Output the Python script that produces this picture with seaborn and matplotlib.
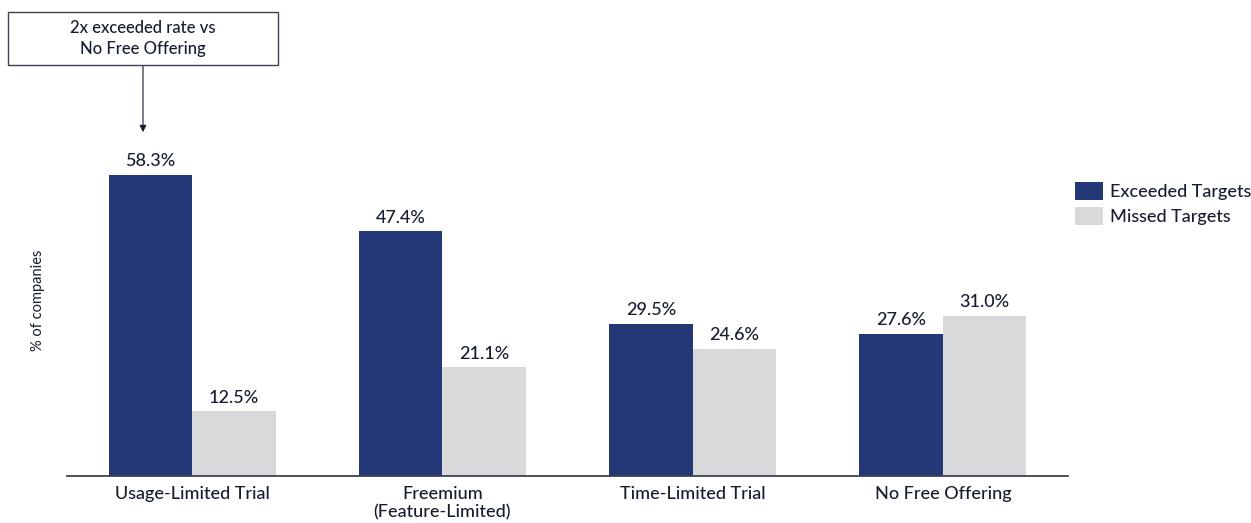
import matplotlib
matplotlib.use("Agg")
import matplotlib.pyplot as plt
import seaborn as sns
import pandas as pd
from matplotlib.patches import Rectangle

categories = ["Usage-Limited Trial", "Freemium\n(Feature-Limited)", "Time-Limited Trial", "No Free Offering"]
exceeded = [58.3, 47.4, 29.5, 27.6]
missed = [12.5, 21.1, 24.6, 31.0]
series_names = ["Exceeded Targets", "Missed Targets"]

NAVY = "#243877"
GRAY = "#d8d9db"
TXT = "#161d2e"
LINE = "#3b4252"

sns.set_theme(style="white")
plt.rcParams["font.family"] = ["Lato", "DejaVu Sans"]
plt.rcParams["font.weight"] = "medium"

df = pd.DataFrame({
    "category": categories * 2,
    "value": exceeded + missed,
    "series": [series_names[0]] * 4 + [series_names[1]] * 4,
})

W, H = 1251, 523
fig = plt.figure(figsize=(W / 100, H / 100), dpi=100)
ax_left, ax_right, ax_bottom = 67, 1068, 476
ax = fig.add_axes([ax_left / W, 1 - ax_bottom / H, (ax_right - ax_left) / W, ax_bottom / H])

sns.barplot(data=df, x="category", y="value", hue="series", palette=[NAVY, GRAY],
            width=0.667, saturation=1, ax=ax, legend=True, linewidth=0)

ax.set_xlim(-0.5, 3.5)
ax.set_ylim(0, 92.2)

for cont in ax.containers:
    ax.bar_label(cont, fmt="%.1f%%", padding=4, fontsize=13, color=TXT)

for s in ["top", "right", "left"]:
    ax.spines[s].set_visible(False)
ax.spines["bottom"].set_color(LINE)
ax.spines["bottom"].set_linewidth(1.3)
ax.set_yticks([])
ax.tick_params(axis="x", length=0, pad=7, labelsize=13, labelcolor=TXT)
ax.set_xlabel("")
ax.set_ylabel("% of companies", fontsize=10.5, color=TXT)
ax.yaxis.set_label_coords(-0.022, 0.37)

# Legend
handles, labels = ax.get_legend_handles_labels()
ax.legend(handles, labels, loc="upper left", bbox_to_anchor=(1075 / W, 1 - 182 / H),
          bbox_transform=fig.transFigure, frameon=False, fontsize=13,
          handlelength=1.55, handleheight=1.16, handletextpad=0.38, labelspacing=0.39,
          labelcolor=TXT, borderaxespad=0, borderpad=0)

# Annotation box
bx0, by0, bx1, by1 = 8, 12, 278, 65
rect = Rectangle((bx0 / W, 1 - by1 / H), (bx1 - bx0) / W, (by1 - by0) / H,
                 transform=fig.transFigure, facecolor="white", edgecolor=LINE, linewidth=1.0)
fig.patches.append(rect)
fig.text(143 / W, 1 - 38.5 / H, "2x exceeded rate vs\nNo Free Offering", ha="center", va="center",
         fontsize=12, color=TXT, linespacing=1.4)

arrow_x = (143 - ax_left) / 250.25 - 0.5
ax.annotate("", xy=(arrow_x, 66.6), xycoords="data",
            xytext=(143 / W, 1 - by1 / H), textcoords="figure fraction",
            arrowprops=dict(arrowstyle="-|>", color=TXT, lw=0.8, mutation_scale=10,
                            shrinkA=0, shrinkB=0),
            annotation_clip=False)

fig.savefig("out.png", dpi=100)
